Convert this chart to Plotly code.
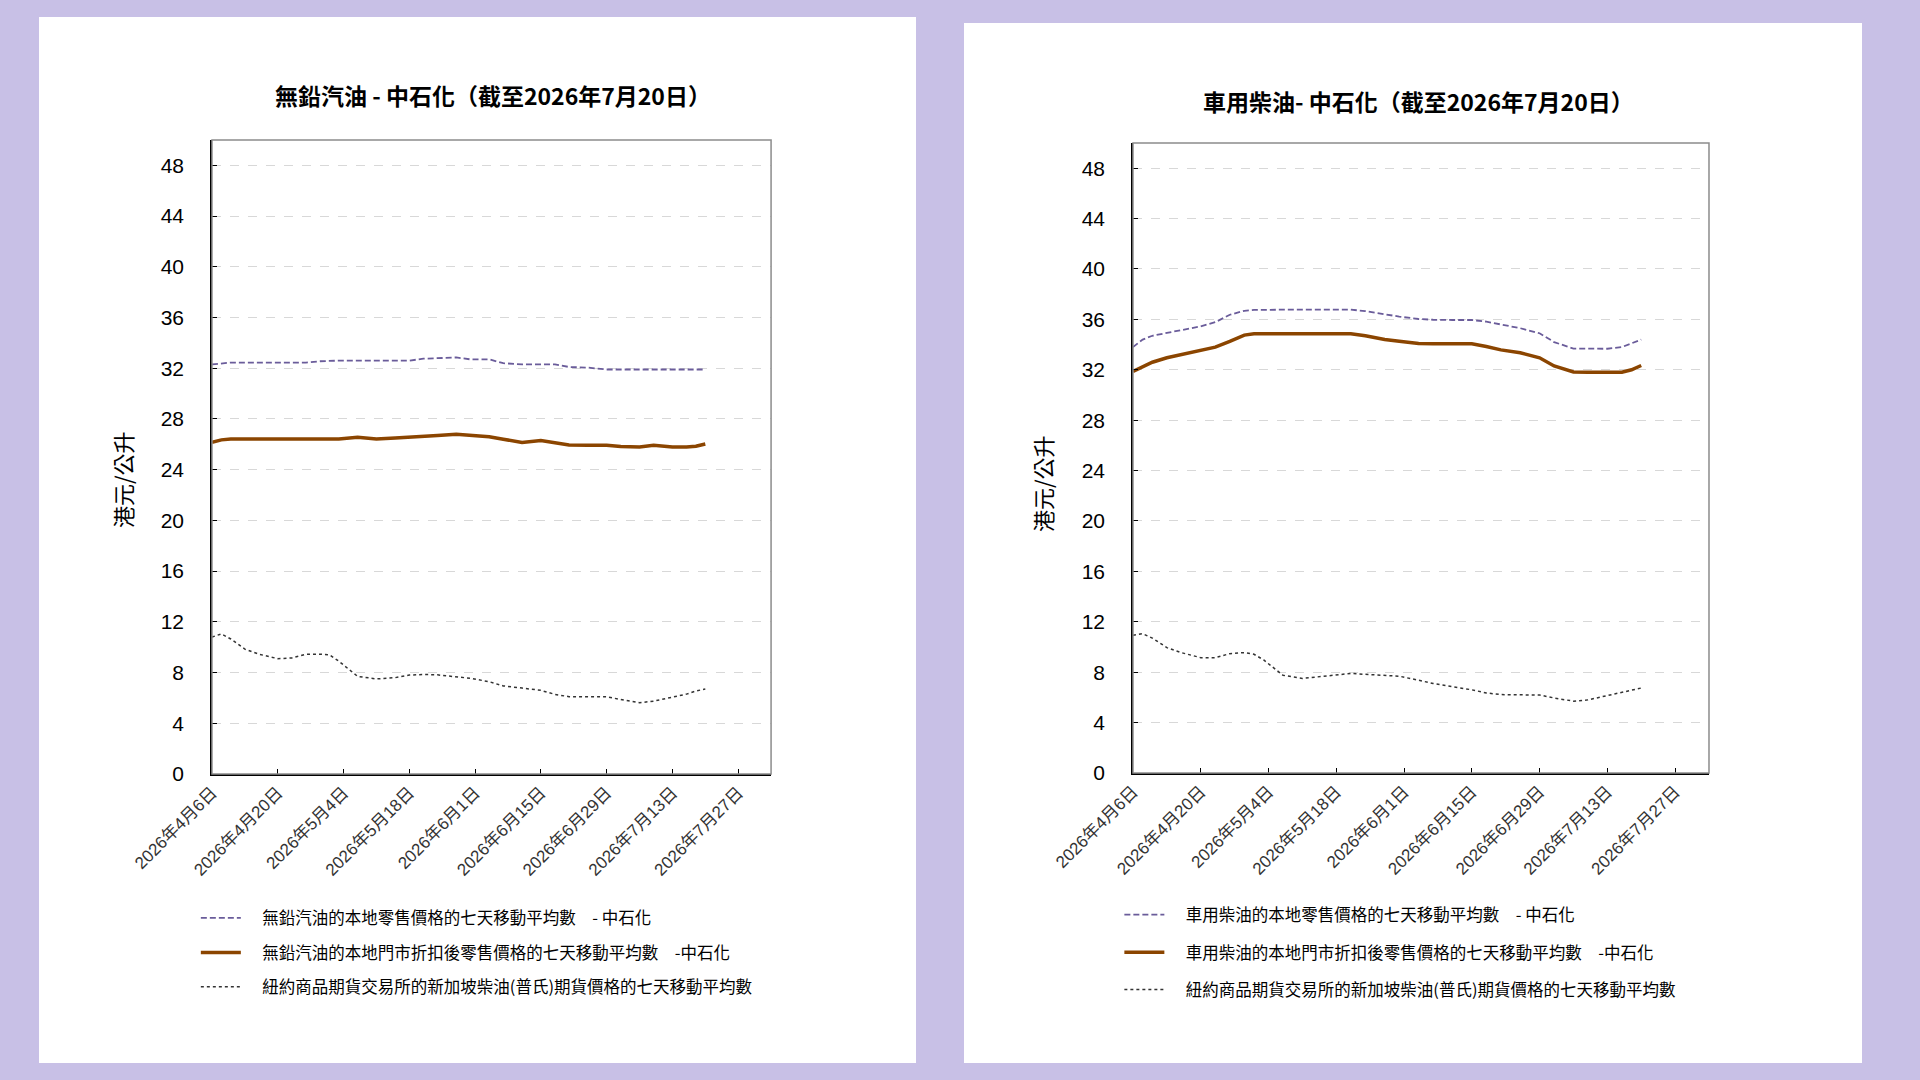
import plotly.graph_objects as go

# sample dates (daily 7-day averages)
dates = [
    "2026-04-06", "2026-04-08", "2026-04-10", "2026-04-13", "2026-04-16", "2026-04-20",
    "2026-04-23", "2026-04-26", "2026-04-29", "2026-05-01", "2026-05-03", "2026-05-07",
    "2026-05-11", "2026-05-15", "2026-05-18", "2026-05-21", "2026-05-24", "2026-05-28",
    "2026-05-31", "2026-06-04", "2026-06-07", "2026-06-11", "2026-06-15", "2026-06-18",
    "2026-06-21", "2026-06-25", "2026-06-29", "2026-07-02", "2026-07-06", "2026-07-09",
    "2026-07-13", "2026-07-16", "2026-07-18", "2026-07-20",
]

# unleaded petrol panel
petrol_retail = [
    32.3, 32.4, 32.45, 32.45, 32.45, 32.45, 32.45, 32.45, 32.55, 32.6, 32.6, 32.6,
    32.6, 32.6, 32.6, 32.75, 32.8, 32.85, 32.7, 32.7, 32.4, 32.3, 32.3, 32.3,
    32.1, 32.05, 31.9, 31.9, 31.9, 31.9, 31.9, 31.9, 31.9, 31.9,
]
petrol_discount = [
    26.15, 26.35, 26.42, 26.42, 26.42, 26.42, 26.42, 26.42, 26.42, 26.42, 26.42, 26.55,
    26.42, 26.5, 26.55, 26.65, 26.7, 26.8, 26.7, 26.6, 26.4, 26.15, 26.3, 26.15,
    25.95, 25.93, 25.93, 25.82, 25.79, 25.93, 25.79, 25.79, 25.85, 26.03,
]
petrol_nymex = [
    10.8, 11.05, 10.65, 9.85, 9.45, 9.1, 9.15, 9.45, 9.45, 9.4, 8.9, 7.7,
    7.5, 7.6, 7.8, 7.85, 7.82, 7.68, 7.55, 7.28, 6.95, 6.78, 6.6, 6.28,
    6.1, 6.09, 6.09, 5.88, 5.62, 5.75, 6.05, 6.3, 6.55, 6.7,
]

# motor diesel panel
diesel_retail = [
    33.8, 34.4, 34.7, 34.95, 35.15, 35.45, 35.78, 36.37, 36.68, 36.75, 36.77, 36.77,
    36.77, 36.77, 36.77, 36.77, 36.66, 36.4, 36.22, 36.03, 35.97, 35.95, 35.95, 35.82,
    35.62, 35.3, 34.9, 34.2, 33.68, 33.67, 33.67, 33.8, 34.1, 34.4,
]
diesel_discount = [
    31.86, 32.25, 32.6, 32.95, 33.19, 33.5, 33.8, 34.25, 34.75, 34.86, 34.86, 34.86,
    34.86, 34.86, 34.86, 34.86, 34.7, 34.4, 34.27, 34.08, 34.06, 34.06, 34.06, 33.85,
    33.58, 33.35, 32.95, 32.3, 31.82, 31.81, 31.81, 31.81, 32.0, 32.34,
]
diesel_nymex = [
    10.93, 11.05, 10.7, 9.95, 9.55, 9.15, 9.15, 9.47, 9.55, 9.42, 8.97, 7.75,
    7.5, 7.65, 7.8, 7.9, 7.83, 7.75, 7.68, 7.36, 7.1, 6.85, 6.6, 6.35,
    6.22, 6.2, 6.19, 5.95, 5.7, 5.8, 6.12, 6.4, 6.55, 6.74,
]

tick_dates = ["2026-04-06", "2026-04-20", "2026-05-04", "2026-05-18", "2026-06-01",
              "2026-06-15", "2026-06-29", "2026-07-13", "2026-07-27"]
tick_text = ["2026年4月6日", "2026年4月20日", "2026年5月4日", "2026年5月18日", "2026年6月1日",
             "2026年6月15日", "2026年6月29日", "2026年7月13日", "2026年7月27日"]
y_ticks = list(range(0, 49, 4))

titles = ["無鉛汽油 - 中石化（截至2026年7月20日）", "車用柴油- 中石化（截至2026年7月20日）"]
names_petrol = ["無鉛汽油的本地零售價格的七天移動平均數　- 中石化",
                "無鉛汽油的本地門市折扣後零售價格的七天移動平均數　-中石化",
                "紐約商品期貨交易所的新加坡柴油(普氏)期貨價格的七天移動平均數"]
names_diesel = ["車用柴油的本地零售價格的七天移動平均數　- 中石化",
                "車用柴油的本地門市折扣後零售價格的七天移動平均數　-中石化",
                "紐約商品期貨交易所的新加坡柴油(普氏)期貨價格的七天移動平均數"]

CJK = "Noto Sans CJK TC"
NUM = "Liberation Sans, Noto Sans CJK TC"
PURPLE = "#6A5C9A"
BROWN = "#8B4500"
DOTS = "#333333"

fig = go.Figure()

panels = [
    ("x", "y", "legend", names_petrol, [petrol_retail, petrol_discount, petrol_nymex]),
    ("x2", "y2", "legend2", names_diesel, [diesel_retail, diesel_discount, diesel_nymex]),
]
styles = [
    dict(color=PURPLE, width=1.8, dash="6px,3px"),
    dict(color=BROWN, width=3.5),
    dict(color=DOTS, width=1.5, dash="dot"),
]
for xa, ya, leg, names, series in panels:
    for i, (name, vals) in enumerate(zip(names, series)):
        fig.add_trace(go.Scatter(
            x=dates, y=vals, mode="lines", name="\u3000" + name, line=styles[i],
            xaxis=xa, yaxis=ya, legend=leg, legendgroup=leg + str(i),
        ))

axis_x = dict(
    type="date", range=["2026-04-06", "2026-08-03"],
    tickvals=tick_dates, ticktext=tick_text, tickangle=-45,
    tickfont=dict(family=NUM, size=17, color="#333"),
    showgrid=False, showline=True, linecolor="black", linewidth=2,
    ticks="inside", ticklen=5, tickcolor="black", zeroline=False,
    automargin=False,
)
axis_y = dict(
    range=[0, 50], tickvals=y_ticks,
    tickfont=dict(family=NUM, size=21, color="black"),
    showgrid=True, gridcolor="#D8D8D8", griddash="dash", gridwidth=1,
    showline=True, linecolor="black", linewidth=1.5,
    ticks="inside", ticklen=5, tickcolor="black", zeroline=False,
    ticklabelstandoff=22, automargin=False,
)

legend_style = dict(
    font=dict(family=CJK, size=16.5, color="black"), bgcolor="rgba(0,0,0,0)",
    traceorder="grouped", yanchor="top", xanchor="left", itemwidth=40,
)

fig.update_layout(
    width=1920, height=1080,
    margin=dict(l=0, r=0, t=0, b=0, autoexpand=False),
    paper_bgcolor="#C8C0E6",
    plot_bgcolor="#E8F4F8",
    showlegend=True,
    xaxis=dict(axis_x, domain=[0.1104, 0.4016], anchor="y"),
    yaxis=dict(axis_y, domain=[0.2833, 0.8704], anchor="x"),
    xaxis2=dict(axis_x, domain=[0.5901, 0.8901], anchor="y2"),
    yaxis2=dict(axis_y, domain=[0.2843, 0.8676], anchor="x2"),
    legend=dict(legend_style, x=0.102, y=0.166, tracegroupgap=10),
    legend2=dict(legend_style, x=0.583, y=0.169, tracegroupgap=13),
    shapes=[
        # white panels
        dict(type="rect", xref="paper", yref="paper", x0=39 / 1920, x1=916 / 1920,
             y0=1 - 1063 / 1080, y1=1 - 17 / 1080, fillcolor="white", line_width=0, layer="below"),
        dict(type="rect", xref="paper", yref="paper", x0=964 / 1920, x1=1862 / 1920,
             y0=1 - 1063 / 1080, y1=1 - 23 / 1080, fillcolor="white", line_width=0, layer="below"),
        # grey frame around plot areas
        dict(type="rect", xref="x domain", yref="y domain", x0=0, x1=1, y0=0, y1=1,
             line=dict(color="#8C8C8C", width=1.5)),
        dict(type="rect", xref="x2 domain", yref="y2 domain", x0=0, x1=1, y0=0, y1=1,
             line=dict(color="#8C8C8C", width=1.5)),
    ],
    annotations=[
        dict(text="<b>" + titles[0] + "</b>", x=493 / 1920, y=1 - 95 / 1080, xref="paper", yref="paper",
             xanchor="center", yanchor="middle", showarrow=False,
             font=dict(family=CJK, size=23, color="black")),
        dict(text="<b>" + titles[1] + "</b>", x=1418 / 1920, y=1 - 101 / 1080, xref="paper", yref="paper",
             xanchor="center", yanchor="middle", showarrow=False,
             font=dict(family=CJK, size=23, color="black")),
        dict(text="港元/公升", x=122 / 1920, y=1 - 480 / 1080, xref="paper", yref="paper",
             xanchor="center", yanchor="middle", showarrow=False, textangle=-90,
             font=dict(family=CJK, size=22, color="black")),
        dict(text="港元/公升", x=1042 / 1920, y=1 - 484 / 1080, xref="paper", yref="paper",
             xanchor="center", yanchor="middle", showarrow=False, textangle=-90,
             font=dict(family=CJK, size=22, color="black")),
    ],
)

fig.write_html("out.html", config={"displayModeBar": False},
               post_script="document.body.style.margin='0';")
